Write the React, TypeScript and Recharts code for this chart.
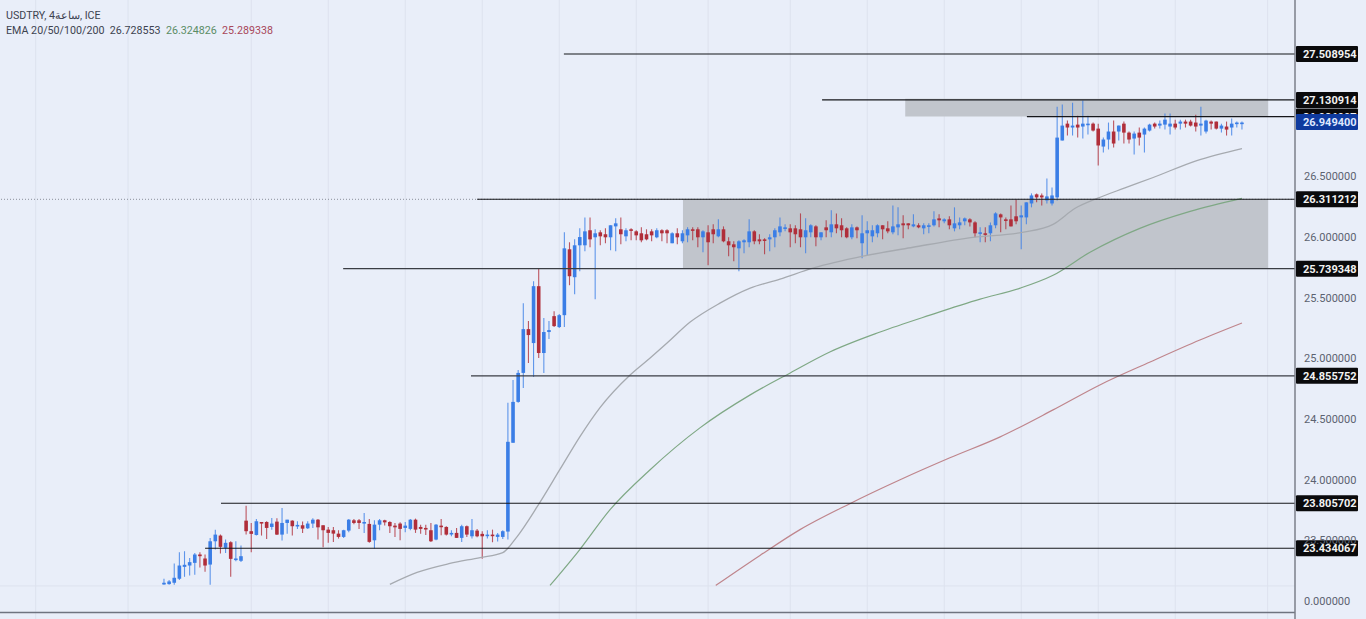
import React from "react";
import { ComposedChart, Bar, Line, XAxis, YAxis, CartesianGrid, ReferenceLine, ReferenceArea, ReferenceDot } from "recharts";

const highs = [
23.183,23.172,23.309,23.402,23.410,23.355,23.396,23.402,23.383,23.520,
23.588,23.547,23.506,23.492,23.492,23.457,23.785,23.643,23.676,23.651,
23.657,23.684,23.681,23.766,23.670,23.665,23.657,23.654,23.657,23.681,
23.676,23.624,23.610,23.610,23.583,23.588,23.676,23.676,23.676,23.725,
23.676,23.665,23.676,23.670,23.657,23.643,23.648,23.651,23.676,23.679,
23.629,23.629,23.643,23.635,23.676,23.616,23.583,23.602,23.629,23.621,
23.676,23.594,23.575,23.583,23.588,23.561,23.583,24.633,24.822,24.904,
25.455,25.307,25.636,25.743,25.332,25.307,25.389,25.365,26.039,25.957,
25.981,26.072,26.162,26.162,26.064,26.056,26.072,26.097,26.154,26.162,
26.072,26.072,26.056,26.080,26.064,26.064,26.072,26.064,26.064,26.039,
26.072,26.056,26.080,26.080,26.080,26.056,26.097,26.105,26.146,26.088,
25.998,25.965,25.973,25.981,26.146,26.056,26.023,25.990,26.023,26.072,
26.162,26.105,26.105,26.097,26.195,26.154,26.105,26.097,26.039,26.138,
26.220,26.195,26.154,26.080,26.105,26.088,26.179,26.130,26.097,26.105,
26.097,26.130,26.261,26.245,26.179,26.113,26.187,26.113,26.113,26.113,
26.212,26.187,26.154,26.171,26.245,26.162,26.162,26.154,26.130,26.080,
26.080,26.121,26.204,26.195,26.162,26.261,26.310,26.261,26.286,26.360,
26.360,26.360,26.483,26.409,27.075,27.092,26.960,27.108,27.001,27.125,
27.001,26.944,26.935,26.820,26.944,26.960,26.919,26.952,26.870,26.870,
26.903,26.903,26.935,26.944,26.960,27.018,27.018,26.968,26.968,26.968,
26.968,27.009,27.075,26.968,26.960,26.952,26.935,26.952,26.977,26.952,
26.952];

const lows = [
23.133,23.133,23.133,23.172,23.199,23.210,23.216,23.276,23.240,23.133,
23.424,23.391,23.396,23.199,23.328,23.322,23.547,23.402,23.539,23.539,
23.511,23.588,23.544,23.498,23.553,23.539,23.594,23.561,23.594,23.602,
23.506,23.443,23.479,23.487,23.514,23.520,23.566,23.632,23.594,23.561,
23.479,23.432,23.583,23.621,23.561,23.528,23.500,23.566,23.583,23.561,
23.555,23.544,23.487,23.500,23.542,23.539,23.533,23.520,23.487,23.528,
23.514,23.525,23.347,23.514,23.484,23.490,23.511,23.506,24.304,24.633,
24.756,24.962,24.847,25.003,24.880,25.159,25.258,25.250,25.258,25.603,
25.529,25.718,25.883,25.916,25.488,25.932,25.949,25.891,25.883,25.940,
25.965,25.973,25.973,25.957,25.973,25.965,25.990,25.965,25.949,25.949,
25.940,25.949,25.957,25.973,25.916,25.875,25.768,25.949,25.998,25.957,
25.842,25.801,25.718,25.866,25.916,25.940,25.940,25.858,25.883,25.916,
26.006,26.047,25.916,25.949,25.916,25.866,25.998,25.924,25.973,25.998,
25.998,26.031,25.998,25.990,25.981,25.990,25.825,25.850,25.957,25.998,
25.981,26.031,26.023,26.014,25.990,26.064,26.080,26.072,26.023,26.031,
26.088,26.080,26.113,26.064,26.047,26.064,26.097,26.088,25.998,25.957,
25.957,25.965,26.072,26.039,26.064,26.088,26.105,25.899,26.105,26.245,
26.286,26.261,26.277,26.261,26.302,26.796,26.837,26.837,26.820,26.812,
26.845,26.870,26.590,26.697,26.722,26.738,26.796,26.771,26.771,26.681,
26.755,26.697,26.870,26.894,26.894,26.886,26.845,26.886,26.886,26.903,
26.911,26.870,26.837,26.853,26.886,26.886,26.861,26.837,26.837,26.903,
26.886];

const bodyTops = [
23.150,23.161,23.191,23.292,23.298,23.320,23.383,23.383,23.350,23.492,
23.547,23.539,23.479,23.484,23.350,23.369,23.662,23.575,23.657,23.651,
23.651,23.638,23.654,23.643,23.670,23.662,23.627,23.624,23.638,23.670,
23.670,23.624,23.588,23.583,23.555,23.583,23.670,23.665,23.665,23.651,
23.635,23.629,23.665,23.665,23.651,23.621,23.638,23.621,23.670,23.670,
23.610,23.602,23.583,23.629,23.621,23.610,23.561,23.561,23.616,23.616,
23.583,23.580,23.553,23.547,23.547,23.547,23.575,24.312,24.641,24.880,
25.241,25.241,25.595,25.595,25.217,25.233,25.348,25.356,25.907,25.899,
25.932,26.000,26.047,26.056,26.031,26.039,26.023,26.097,26.113,26.064,
26.056,26.064,26.047,26.031,26.023,26.047,26.056,26.056,26.056,26.031,
26.031,26.031,26.064,26.064,26.064,26.047,26.039,26.064,26.064,26.064,
25.965,25.940,25.965,25.973,26.047,26.047,25.981,25.981,25.998,26.056,
26.088,26.080,26.072,26.072,26.064,26.056,26.097,26.088,26.039,26.080,
26.105,26.105,26.097,26.072,26.080,26.080,26.031,26.056,26.056,26.097,
26.097,26.072,26.088,26.105,26.113,26.113,26.105,26.097,26.097,26.097,
26.146,26.154,26.146,26.146,26.113,26.121,26.154,26.146,26.121,26.039,
26.031,26.097,26.195,26.187,26.146,26.146,26.171,26.179,26.286,26.343,
26.352,26.343,26.335,26.343,26.820,26.919,26.935,26.919,26.927,26.935,
26.935,26.935,26.894,26.804,26.870,26.870,26.919,26.935,26.861,26.853,
26.861,26.894,26.927,26.935,26.935,26.968,26.935,26.935,26.952,26.952,
26.952,26.944,26.935,26.960,26.952,26.952,26.919,26.911,26.935,26.944,
26.944];

const bodyBottoms = [
23.136,23.139,23.150,23.183,23.281,23.292,23.314,23.369,23.292,23.300,
23.492,23.446,23.438,23.347,23.342,23.331,23.575,23.553,23.544,23.643,
23.602,23.610,23.547,23.547,23.643,23.616,23.616,23.596,23.599,23.638,
23.607,23.583,23.561,23.555,23.528,23.528,23.580,23.643,23.643,23.643,
23.487,23.500,23.629,23.648,23.616,23.607,23.594,23.602,23.594,23.588,
23.594,23.594,23.492,23.506,23.610,23.547,23.553,23.520,23.520,23.547,
23.533,23.533,23.533,23.539,23.539,23.528,23.528,23.572,24.304,24.641,
24.880,25.192,25.126,25.044,25.044,25.217,25.266,25.258,25.356,25.677,
25.669,25.932,25.932,25.981,25.998,26.006,25.998,25.998,26.088,26.023,
26.006,26.056,26.014,25.973,25.981,26.014,25.998,26.031,26.031,25.949,
25.998,25.965,26.014,26.056,25.998,25.998,25.957,26.023,26.006,25.965,
25.932,25.916,25.907,25.957,25.957,25.965,25.965,25.973,25.981,25.998,
26.039,26.072,26.039,26.023,25.998,25.998,26.039,25.998,25.998,26.056,
26.039,26.072,26.056,25.998,25.998,26.056,25.949,26.031,26.006,26.031,
26.064,26.047,26.039,26.080,26.097,26.097,26.088,26.080,26.072,26.088,
26.097,26.138,26.130,26.097,26.072,26.097,26.130,26.121,26.031,26.031,
26.023,26.031,26.097,26.162,26.138,26.088,26.130,26.162,26.162,26.277,
26.327,26.327,26.302,26.277,26.327,26.796,26.903,26.903,26.903,26.911,
26.927,26.878,26.755,26.746,26.804,26.771,26.870,26.861,26.804,26.812,
26.820,26.845,26.878,26.911,26.919,26.927,26.911,26.903,26.935,26.935,
26.919,26.911,26.919,26.870,26.935,26.894,26.894,26.886,26.903,26.935,
26.935];

const rising = [
1,1,1,1,1,1,1,0,0,1,
1,0,1,0,1,1,0,0,1,0,
0,1,0,1,1,0,1,0,1,1,
0,0,0,0,0,1,1,0,0,1,
0,1,1,0,0,0,0,1,1,0,
0,0,0,1,0,0,1,0,1,0,
1,0,0,1,0,1,1,1,1,1,
1,0,1,0,1,1,0,1,1,0,
1,1,1,0,1,0,0,1,1,0,
1,0,0,0,0,0,1,0,0,1,
0,1,1,0,0,1,0,0,1,0,
0,0,1,1,1,0,0,0,1,1,
1,1,0,0,0,1,1,0,1,0,
1,0,0,0,1,0,1,1,1,1,
0,0,1,1,0,0,1,0,1,1,
1,0,1,0,1,1,1,0,0,1,
0,1,1,0,0,0,0,1,1,1,
0,0,1,1,1,1,0,1,0,1,
1,0,0,1,1,0,1,0,0,1,
0,1,1,0,1,1,1,0,1,0,
0,0,1,1,0,0,1,0,1,1,
1];

const ema20Bars = [44,49.3,55.7,61.6,66,68.8,72.7,77.1,81,84.9,90.8,94.7,98,102.5,108.3,114.2,120,126.4,136.2,145.9,157.6,167.2,173.2,177.5,181.8,187.2,192.7,201.2,210];
const ema20Values = [23.136,23.235,23.309,23.358,23.399,23.531,23.777,24.082,24.353,24.592,24.863,25.003,25.126,25.299,25.455,25.579,25.653,25.743,25.842,25.916,25.998,26.039,26.105,26.237,26.319,26.405,26.491,26.631,26.73];
const ema50Bars = [75.2,81,86.9,94.7,104.4,114.2,122,129.7,139.5,149.2,159,166.8,173.2,180.4,190.1,199.9,210];
const ema50Values = [23.128,23.424,23.753,24.082,24.427,24.699,24.88,25.052,25.217,25.356,25.488,25.579,25.685,25.875,26.072,26.212,26.319];
const ema200Bars = [107.5,116.1,123.9,133.6,143.4,153.1,162.9,173.2,182.3,192.1,201.8,210];
const ema200Values = [23.128,23.375,23.588,23.802,23.999,24.18,24.353,24.575,24.781,24.97,25.151,25.291];

const priceTicks = [26.5, 26, 25.5, 25, 24.5, 24, 23.5, 22.998];
const gridPrices = [23.124];
const gridBars = [-25, -7, 17, 32, 47, 62, 77, 92, 106, 122, 137, 152, 167, 182, 197, 215];

const levelPrices = [27.508954, 27.130914, 26.993, 26.311212, 25.739348, 24.855752, 23.805702, 23.434067];
const levelStarts = [77.9, 128.2, 168.1, 61, 34.9, 59.8, 11.1, 8];
const levelLabels = ["27.508954", "27.130914", "26.986907", "26.311212", "25.739348", "24.855752", "23.805702", "23.434067"];

const lastPrice = 26.9494;
const lastLabel = "26.949400";
const zeroLabel = "0.000000";

const zoneBars = [[144.4, 215.1], [101.1, 215.1]];
const zonePrices = [[26.993, 27.141], [25.743, 26.311]];

const X_MIN = -31.95;
const X_MAX = 220.33;
const Y_MIN = 22.8512;
const Y_MAX = 27.9543;
const BODY_WIDTH = 3.6;
const FONT = "Roboto, 'Noto Sans', sans-serif";

const rows = highs.map((high, i) => ({ x: i, high, low: lows[i], bodyTop: bodyTops[i], bodyBottom: bodyBottoms[i], up: rising[i] === 1 }));
const pairs = (xs: number[], ys: number[]) => xs.map((x, i) => ({ x, p: ys[i] }));

const Candle = (props: any) => {
  const { x, y, width, height, payload } = props;
  const top = Math.min(y, y + height);
  const h = Math.abs(height);
  const k = h / Math.max(payload.high - payload.low, 0.0001);
  const cx = x + width / 2;
  const bodyY = top + (payload.high - payload.bodyTop) * k;
  const bodyH = Math.max(1.6, (payload.bodyTop - payload.bodyBottom) * k);
  const color = payload.up ? "#3b7ee6" : "#b02e3a";
  return (
    <g>
      <line x1={cx} x2={cx} y1={top} y2={top + h} stroke={color} strokeWidth={1.1} strokeOpacity={0.8} />
      <rect x={cx - BODY_WIDTH / 2} y={bodyY} width={BODY_WIDTH} height={bodyH} fill={color} />
    </g>
  );
};

const PriceTag = ({ cx, cy, text, bg = "#0a0a0c", fg = "#f2f2f2" }: any) => (
  <g>
    <rect x={cx + 1} y={cy - 8} width={62} height={16} rx={1} fill={bg} />
    <text x={cx + 8} y={cy + 4} fontSize={11} fontWeight={700} fontFamily={FONT} fill={fg}>{text}</text>
  </g>
);

const AxisTick = ({ x, y, payload }: any) => (
  <text x={x + 1} y={y + 4} fontSize={11} fontFamily={FONT} fill="#5c6270">
    {payload.value === priceTicks[priceTicks.length - 1] ? zeroLabel : payload.value.toFixed(6)}
  </text>
);

export default function App() {
  return (
    <div style={{ position: "absolute", left: 0, top: 0, width: 1366, height: 619, background: "#e9eef9", overflow: "hidden" }}>
      <ComposedChart width={1366} height={619} data={rows} margin={{ top: 0, right: 0, bottom: 0, left: 0 }}>
        <CartesianGrid stroke="#dde2ee" strokeWidth={1} horizontalValues={gridPrices} verticalValues={gridBars} syncWithTicks={false} />
        <XAxis dataKey="x" type="number" scale="linear" domain={[X_MIN, X_MAX]} allowDataOverflow hide />
        <YAxis orientation="right" width={71} type="number" scale="linear" domain={[Y_MIN, Y_MAX]} allowDataOverflow ticks={priceTicks} interval={0}
          tick={<AxisTick />} tickLine={false} axisLine={{ stroke: "#7b7f8a", strokeWidth: 1.5 }} />
        {zoneBars.map((b, i) => (
          <ReferenceArea key={i} x1={b[0]} x2={b[1]} y1={zonePrices[i][0]} y2={zonePrices[i][1]} fill="#c1c5cc" fillOpacity={1} stroke="none" ifOverflow="visible" />
        ))}
        <ReferenceLine y={22.904} stroke="#6f7480" strokeWidth={1.5} />
        <ReferenceLine y={levelPrices[3]} stroke="#8a8f9a" strokeWidth={1} strokeDasharray="1 2" />
        <Line data={pairs(ema20Bars, ema20Values)} dataKey="p" type="monotone" stroke="#a6aab0" strokeWidth={1.3} dot={false} activeDot={false} isAnimationActive={false} />
        <Line data={pairs(ema50Bars, ema50Values)} dataKey="p" type="monotone" stroke="#7fa885" strokeWidth={1.2} dot={false} activeDot={false} isAnimationActive={false} />
        <Line data={pairs(ema200Bars, ema200Values)} dataKey="p" type="monotone" stroke="#bf858c" strokeWidth={1.2} dot={false} activeDot={false} isAnimationActive={false} />
        <Bar dataKey={(d: any) => [d.low, d.high]} barSize={4} shape={<Candle />} isAnimationActive={false} />
        {levelPrices.map((p, i) => (
          <ReferenceLine key={i} segment={[{ x: levelStarts[i], y: p }, { x: X_MAX, y: p }]} stroke={i === 4 || i === 5 ? "#3a3d44" : "#15161a"} strokeWidth={i === 4 || i === 5 ? 1.4 : 1.1} ifOverflow="visible" />
        ))}
        <ReferenceDot x={X_MAX} y={levelPrices[2]} ifOverflow="visible" shape={(s: any) => <PriceTag {...s} text={levelLabels[2]} />} />
        {levelPrices.map((p, i) => i === 2 ? null : (
          <ReferenceDot key={i} x={X_MAX} y={p} ifOverflow="visible" shape={(s: any) => <PriceTag {...s} text={levelLabels[i]} />} />
        ))}
        <ReferenceDot x={X_MAX} y={lastPrice} ifOverflow="visible" shape={(s: any) => <PriceTag {...s} text={lastLabel} bg="#0f3a9e" fg="#dfe8ff" />} />
      </ComposedChart>
      <div style={{ position: "absolute", left: 6, top: 8, fontFamily: FONT, fontSize: 10.7, lineHeight: "15px", color: "#3d4350", whiteSpace: "pre" }}>
        <div>{"USDTRY, 4ساعة, ICE"}</div>
        <div>
          {"EMA 20/50/100/200  26.728553  "}
          <span style={{ color: "#5b8d66" }}>26.324826</span>
          {"  "}
          <span style={{ color: "#a8475a" }}>25.289338</span>
        </div>
      </div>
    </div>
  );
}
